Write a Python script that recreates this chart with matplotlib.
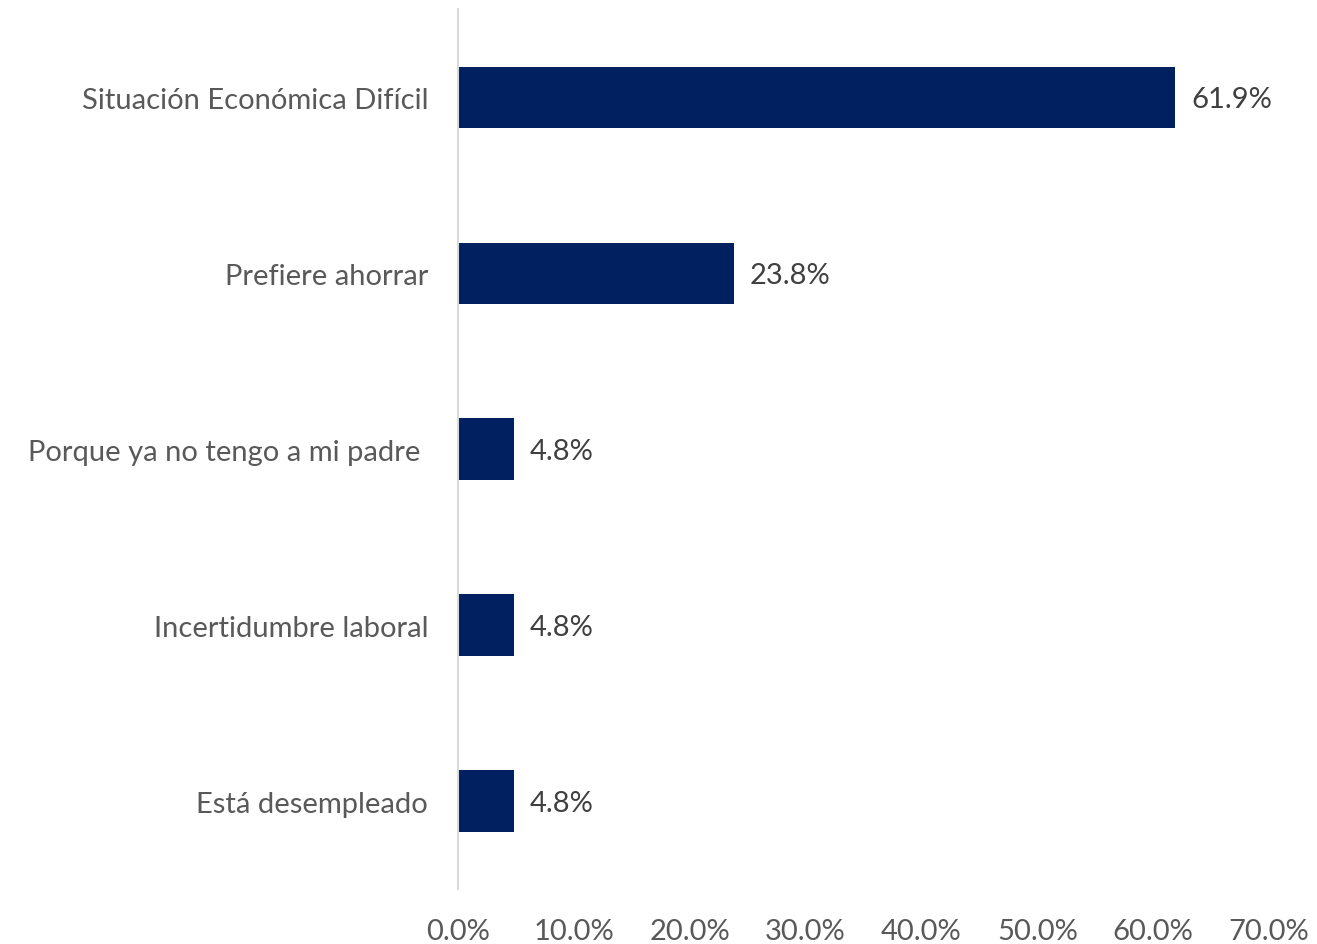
import matplotlib.pyplot as plt
from matplotlib.ticker import FuncFormatter

# datos
categorias = ['Situación Económica Difícil', 'Prefiere ahorrar',
              'Porque ya no tengo a mi padre ', 'Incertidumbre laboral',
              'Está desempleado']
valores = [61.9, 23.8, 4.8, 4.8, 4.8]
xticks = [0, 10, 20, 30, 40, 50, 60, 70]

color_barra = '#002060'
color_texto = '#595959'

plt.rcParams['font.family'] = ['Lato', 'DejaVu Sans']

fig = plt.figure(figsize=(13.17, 9.45), dpi=100)
ax = fig.add_axes([0.3478, 0.058, 0.6158, 0.931])

pos = list(range(len(categorias)))
ax.barh(pos, valores, height=0.35, color=color_barra)
for p, v in zip(pos, valores):
    ax.annotate(f'{v:.1f}%', xy=(v, p), xytext=(11.5, -1), textcoords='offset points',
                va='center', ha='left', fontsize=21, color='#404040')

ax.set_ylim(len(categorias) - 0.5, -0.5)
ax.set_xlim(0, 70)
ax.set_yticks(pos)
ax.set_yticklabels(categorias, fontsize=21, color=color_texto)
ax.set_xticks(xticks)
ax.xaxis.set_major_formatter(FuncFormatter(lambda x, _: f'{x:.1f}%'))
ax.tick_params(axis='x', length=0, pad=21, labelsize=21, labelcolor=color_texto)
ax.tick_params(axis='y', length=0, pad=21.6)

for s in ['top', 'right', 'bottom']:
    ax.spines[s].set_visible(False)
ax.spines['left'].set_color('#d9d9d9')
ax.spines['left'].set_linewidth(1.5)

fig.savefig('out.png', dpi=100)
